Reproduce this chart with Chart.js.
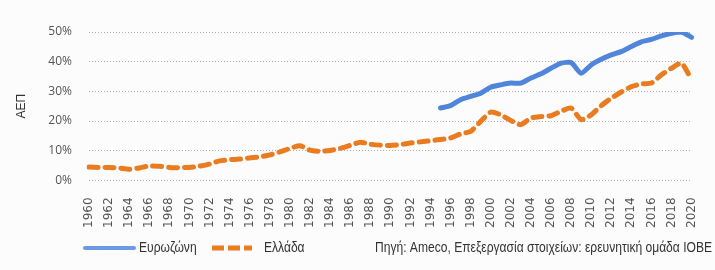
<!DOCTYPE html>
<html>
<head>
<meta charset="utf-8">
<script src="https://cdn.jsdelivr.net/npm/chart.js@4"></script>
<style>
  html, body { margin: 0; padding: 0; background: #fcfcfc; }
  #wrap { width: 715px; height: 270px; position: relative; }
</style>
</head>
<body>
<div id="wrap"><canvas id="chart"></canvas></div>
<script>
// categories
const years = ['1960','1961','1962','1963','1964','1965','1966','1967','1968','1969',
  '1970','1971','1972','1973','1974','1975','1976','1977','1978','1979',
  '1980','1981','1982','1983','1984','1985','1986','1987','1988','1989',
  '1990','1991','1992','1993','1994','1995','1996','1997','1998','1999',
  '2000','2001','2002','2003','2004','2005','2006','2007','2008','2009',
  '2010','2011','2012','2013','2014','2015','2016','2017','2018','2019','2020'];

// Ελλάδα, % ΑΕΠ (1960-2020)
const greece = [4.5, 4.4, 4.4, 4.2, 3.8, 4.2, 4.9, 4.8, 4.4, 4.3,
  4.4, 4.8, 5.5, 6.6, 7.0, 7.2, 7.6, 7.9, 8.6, 9.6,
  10.8, 11.7, 10.2, 9.8, 10.1, 10.8, 11.8, 12.9, 12.2, 11.9,
  11.8, 12.1, 12.6, 13.0, 13.4, 13.8, 14.3, 15.7, 16.5, 19.9,
  23.0, 22.1, 20.2, 18.8, 21.0, 21.5, 21.8, 23.3, 24.4, 20.5,
  22.1, 25.2, 27.7, 29.8, 31.6, 32.5, 32.8, 35.6, 37.8, 39.5, 33.9];

// Ευρωζώνη, % ΑΕΠ (1995-2020)
const euroStart = '1995';
const eurozone = [24.4, 25.2, 27.2, 28.3, 29.4, 31.4, 32.2, 32.8, 32.8, 34.5,
  35.9, 37.8, 39.5, 39.7, 36.1, 38.9, 40.8, 42.3, 43.4, 45.1,
  46.7, 47.5, 48.7, 49.6, 50.0, 48.2];

const yTicks = [0, 10, 20, 30, 40, 50];
const sourceText = 'Πηγή: Ameco, Επεξεργασία στοιχείων: ερευνητική ομάδα ΙΟΒΕ';

const BLUE = '#4f86dc';
const ORANGE = '#ea7b1f';

const startIdx = years.indexOf(euroStart);
const euroData = years.map((y, i) => i < startIdx ? null : eurozone[i - startIdx]);

// narrow text: the original uses a condensed face, squeeze a regular one
function narrowText(ctx, text, x, y, sx, align) {
    const w = ctx.measureText(text).width * sx;
    const left = align === 'right' ? x - w : x;
    ctx.save();
    ctx.translate(left, y);
    ctx.scale(sx, 1);
    ctx.textAlign = 'left';
    ctx.fillText(text, 0, 0);
    ctx.restore();
    return w;
}

// legend + source drawn by hand at the bottom
const bottomLegend = {
    id: 'bottomLegend',
    afterDraw(chart) {
        const ctx = chart.ctx;
        const y = 248;
        ctx.save();
        ctx.font = '15px "Liberation Sans", sans-serif';
        ctx.textBaseline = 'middle';
        ctx.fillStyle = '#333';
        const sx = 337 / ctx.measureText(sourceText).width;

        // Ευρωζώνη
        ctx.beginPath();
        ctx.strokeStyle = '#6b9be3';
        ctx.lineWidth = 4;
        ctx.lineCap = 'round';
        ctx.moveTo(85, y);
        ctx.lineTo(134, y);
        ctx.stroke();
        narrowText(ctx, chart.data.datasets[0].label, 139, y, sx);

        // Ελλάδα
        ctx.beginPath();
        ctx.strokeStyle = ORANGE;
        ctx.lineWidth = 5;
        ctx.lineCap = 'butt';
        ctx.setLineDash([12, 4]);
        ctx.moveTo(212, y);
        ctx.lineTo(252, y);
        ctx.stroke();
        ctx.setLineDash([]);
        narrowText(ctx, chart.data.datasets[1].label, 264, y, sx);

        narrowText(ctx, sourceText, 712, y, sx, 'right');
        ctx.restore();
    }
};

new Chart(document.getElementById('chart'), {
    type: 'line',
    data: {
        labels: years,
        datasets: [{
            label: 'Ευρωζώνη',
            data: euroData,
            borderColor: BLUE,
            backgroundColor: BLUE,
            borderWidth: 5,
            borderCapStyle: 'round',
            borderJoinStyle: 'round',
            tension: 0.2,
            pointRadius: 0,
            spanGaps: false
        }, {
            label: 'Ελλάδα',
            data: greece,
            borderColor: ORANGE,
            backgroundColor: ORANGE,
            borderWidth: 5,
            borderDash: [9, 7],
            borderCapStyle: 'round',
            borderJoinStyle: 'round',
            tension: 0.2,
            pointRadius: 0
        }]
    },
    options: {
        responsive: true,
        maintainAspectRatio: false,
        animation: false,
        layout: { padding: { left: 10, right: 8, top: 32, bottom: 33 } },
        plugins: {
            legend: { display: false },
            tooltip: { enabled: false }
        },
        scales: {
            x: {
                grid: { display: false },
                border: { display: false },
                ticks: {
                    autoSkip: false,
                    minRotation: 90,
                    maxRotation: 90,
                    padding: 9,
                    color: '#555',
                    font: { family: '"DejaVu Sans", sans-serif', size: 12 },
                    callback: function(val, i) {
                        return i % 2 === 0 ? years[i] : '';
                    }
                }
            },
            y: {
                min: 0,
                max: 50,
                afterBuildTicks: axis => { axis.ticks = yTicks.map(v => ({ value: v })); },
                afterFit: axis => { axis.width = 79; },
                grid: {
                    color: 'rgba(0,0,0,0.3)',
                    lineWidth: 1,
                    drawTicks: false
                },
                border: { display: false, dash: [1, 2] },
                ticks: {
                    padding: 17,
                    color: '#555',
                    font: { family: '"Open Sans", sans-serif', size: 12 },
                    callback: v => v + '%'
                },
                title: {
                    display: true,
                    text: 'ΑΕΠ',
                    color: '#333',
                    padding: { top: 4, bottom: 0 },
                    font: { family: '"Liberation Sans", sans-serif', size: 12 }
                }
            }
        }
    },
    plugins: [bottomLegend]
});
</script>
</body>
</html>
